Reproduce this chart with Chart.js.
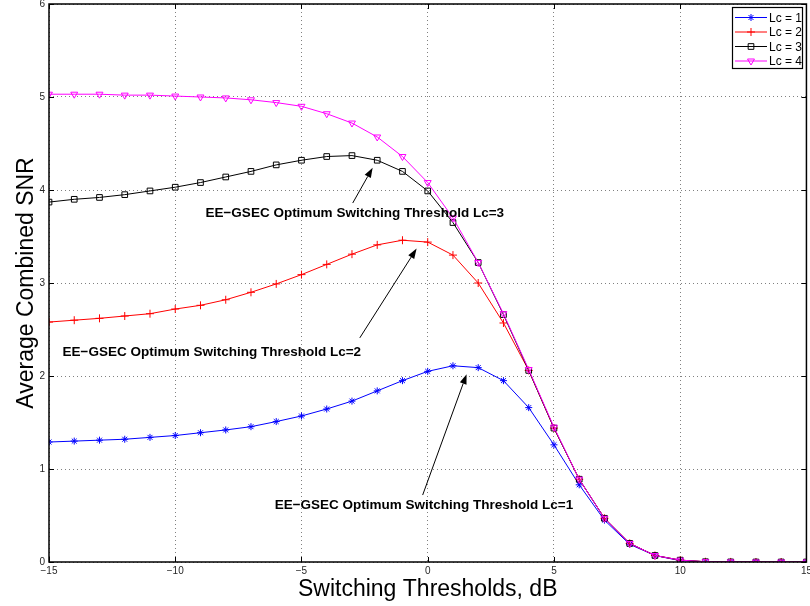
<!DOCTYPE html>
<html>
<head>
<meta charset="utf-8">
<title>Average Combined SNR vs Switching Thresholds</title>
<script src="https://cdn.jsdelivr.net/npm/chart.js@4/dist/chart.umd.min.js"></script>
<style>
  html, body { margin: 0; padding: 0; background: #fff; overflow: hidden; }
  canvas { display: block; margin-top: -4px; }
</style>
</head>
<body>
<canvas id="snrChart" width="815" height="610"></canvas>
<script>
// Switching thresholds (dB)
const thresholds = [-15, -14, -13, -12, -11, -10, -9, -8, -7, -6, -5, -4, -3, -2, -1, 0,
  1, 2, 3, 4, 5, 6, 7, 8, 9, 10, 11, 12, 13, 14, 15];

// Average combined SNR for each Lc
const snrLc1 = [1.29, 1.30, 1.31, 1.32, 1.34, 1.36, 1.39, 1.42, 1.455, 1.51, 1.57, 1.645, 1.73, 1.84, 1.95, 2.05,
  2.11, 2.09, 1.95, 1.66, 1.26, 0.83, 0.45, 0.19, 0.07, 0.014, 0.003, 0.001, 0, 0, 0];
const snrLc2 = [2.58, 2.60, 2.62, 2.645, 2.67, 2.72, 2.76, 2.82, 2.90, 2.99, 3.09, 3.20, 3.31, 3.41, 3.46, 3.44,
  3.30, 3.00, 2.57, 2.06, 1.44, 0.89, 0.47, 0.20, 0.07, 0.02, 0.003, 0.001, 0, 0, 0];
const snrLc3 = [3.87, 3.90, 3.92, 3.95, 3.99, 4.03, 4.08, 4.14, 4.20, 4.27, 4.32, 4.36, 4.37, 4.32, 4.20, 3.99,
  3.65, 3.22, 2.66, 2.06, 1.44, 0.89, 0.47, 0.20, 0.07, 0.02, 0.003, 0.001, 0, 0, 0];
const snrLc4 = [5.03, 5.03, 5.03, 5.02, 5.02, 5.01, 5.00, 4.99, 4.97, 4.94, 4.90, 4.82, 4.72, 4.57, 4.36, 4.08,
  3.70, 3.22, 2.67, 2.07, 1.45, 0.89, 0.47, 0.20, 0.07, 0.02, 0.003, 0.001, 0, 0, 0];

const seriesLabels = ['Lc = 1', 'Lc = 2', 'Lc = 3', 'Lc = 4'];

// Tick values
const xTicks = [-15, -10, -5, 0, 5, 10, 15];
const yTicks = [0, 1, 2, 3, 4, 5, 6];

// Annotations (text position, arrow tail, arrow head) in data units
const notes = [
  { text: 'EE\u2212GSEC Optimum Switching Threshold Lc=3', tx: -2.89, ty: 3.75, x0: -2.97, y0: 3.86, x1: -2.18, y1: 4.24 },
  { text: 'EE\u2212GSEC Optimum Switching Threshold Lc=2', tx: -8.55, ty: 2.25, x0: -2.69, y0: 2.41, x1: -0.44, y1: 3.37 },
  { text: 'EE\u2212GSEC Optimum Switching Threshold Lc=1', tx: -0.15, ty: 0.61, x0: -0.20, y0: 0.72, x1: 1.54, y1: 2.02 }
];

const FONT = "'Liberation Sans', Arial, Helvetica, sans-serif";
const fmt = v => (v < 0 ? '\u2212' + Math.abs(v) : String(v));

const makeSeries = (label, values, color, style, radius, rotation, order) => ({
  label: label,
  data: thresholds.map((t, i) => ({ x: t, y: values[i] })),
  borderColor: color,
  backgroundColor: 'rgba(0,0,0,0)',
  borderWidth: 1,
  pointStyle: style,
  pointRadius: radius,
  pointRotation: rotation,
  pointBorderColor: color,
  pointBackgroundColor: 'rgba(0,0,0,0)',
  pointBorderWidth: 1,
  tension: 0,
  order: order
});

// Frame with inward ticks, annotations and the boxed legend
const matlabDecor = {
  id: 'matlabDecor',
  afterDatasetsDraw(chart) {
    const { ctx, chartArea: a, scales } = chart;
    const xs = scales.x, ys = scales.y;
    ctx.save();

    // axes box
    ctx.strokeStyle = '#000';
    ctx.lineWidth = 1.5;
    ctx.strokeRect(a.left, a.top, a.right - a.left, a.bottom - a.top);

    // inward tick marks
    ctx.lineWidth = 1;
    ctx.beginPath();
    const tl = 5;
    xTicks.forEach(v => {
      const px = Math.round(xs.getPixelForValue(v)) + 0.5;
      ctx.moveTo(px, a.bottom); ctx.lineTo(px, a.bottom - tl);
      ctx.moveTo(px, a.top); ctx.lineTo(px, a.top + tl);
    });
    yTicks.forEach(v => {
      const py = Math.round(ys.getPixelForValue(v)) + 0.5;
      ctx.moveTo(a.left, py); ctx.lineTo(a.left + tl, py);
      ctx.moveTo(a.right, py); ctx.lineTo(a.right - tl, py);
    });
    ctx.stroke();

    // annotations
    ctx.font = 'bold 13.5px ' + FONT;
    ctx.textAlign = 'center';
    ctx.textBaseline = 'middle';
    notes.forEach(n => {
      ctx.fillStyle = '#000';
      ctx.fillText(n.text, xs.getPixelForValue(n.tx), ys.getPixelForValue(n.ty));
      const x0 = xs.getPixelForValue(n.x0), y0 = ys.getPixelForValue(n.y0);
      const x1 = xs.getPixelForValue(n.x1), y1 = ys.getPixelForValue(n.y1);
      const ang = Math.atan2(y1 - y0, x1 - x0);
      const hl = 10, hw = 3.5;
      const bx = x1 - hl * Math.cos(ang), by = y1 - hl * Math.sin(ang);
      ctx.beginPath();
      ctx.moveTo(x0, y0); ctx.lineTo(bx, by);
      ctx.strokeStyle = '#000';
      ctx.lineWidth = 1;
      ctx.stroke();
      ctx.beginPath();
      ctx.moveTo(x1, y1);
      ctx.lineTo(bx + hw * Math.sin(ang), by - hw * Math.cos(ang));
      ctx.lineTo(bx - hw * Math.sin(ang), by + hw * Math.cos(ang));
      ctx.closePath();
      ctx.fill();
    });

    // legend (canvas is shifted up 4px, so add it back)
    const lx = 732, ly = 11, lw = 70, lh = 61;
    ctx.fillStyle = '#fff';
    ctx.fillRect(lx, ly, lw, lh);
    ctx.strokeStyle = '#000';
    ctx.lineWidth = 1.2;
    ctx.strokeRect(lx + 0.5, ly + 0.5, lw, lh);
    ctx.font = '12px ' + FONT;
    ctx.textAlign = 'left';
    chart.data.datasets.forEach((ds, i) => {
      const y = ly + 10.5 + i * 14.5;
      ctx.strokeStyle = ds.borderColor;
      ctx.lineWidth = 1;
      ctx.beginPath();
      ctx.moveTo(lx + 3, y); ctx.lineTo(lx + 35, y);
      ctx.stroke();
      ctx.fillStyle = 'rgba(0,0,0,0)';
      Chart.helpers.drawPoint(ctx, {
        pointStyle: ds.pointStyle, radius: ds.pointRadius,
        rotation: ds.pointRotation, borderWidth: 1
      }, lx + 19, y);
      ctx.fillStyle = '#000';
      ctx.fillText(ds.label, lx + 37, y + 1);
    });
    ctx.restore();
  }
};

const ctx = document.getElementById('snrChart').getContext('2d');
const snrChart = new Chart(ctx, {
  type: 'line',
  data: {
    datasets: [
      makeSeries(seriesLabels[0], snrLc1, '#0000ff', 'star', 3.5, 0, 3),
      makeSeries(seriesLabels[1], snrLc2, '#ff0000', 'cross', 4, 0, 2),
      makeSeries(seriesLabels[2], snrLc3, '#000000', 'rect', 4, 0, 1),
      makeSeries(seriesLabels[3], snrLc4, '#ff00ff', 'triangle', 4, 180, 0)
    ]
  },
  options: {
    responsive: false,
    animation: false,
    devicePixelRatio: 1,
    layout: { padding: 0 },
    plugins: {
      legend: { display: false },
      tooltip: { enabled: false }
    },
    scales: {
      x: {
        type: 'linear',
        min: -15,
        max: 15,
        afterBuildTicks: s => { s.ticks = xTicks.map(v => ({ value: v })); },
        afterFit: s => { s.height = 44; },
        ticks: {
          callback: v => fmt(v),
          font: { family: FONT, size: 10 },
          color: '#262626',
          padding: 3,
          maxRotation: 0
        },
        grid: { color: '#808080', lineWidth: 1, drawTicks: false },
        border: { display: false, dash: [1, 3] },
        title: {
          display: true,
          text: 'Switching Thresholds, dB',
          font: { family: FONT, size: 23 },
          color: '#000',
          padding: { top: 3, bottom: 3 }
        }
      },
      y: {
        type: 'linear',
        min: 0,
        max: 6,
        afterBuildTicks: s => { s.ticks = yTicks.map(v => ({ value: v })); },
        afterFit: s => { s.width = 49; },
        ticks: {
          callback: v => fmt(v),
          font: { family: FONT, size: 10, lineHeight: 0.8 },
          color: '#262626',
          padding: 4
        },
        grid: { color: '#808080', lineWidth: 1, drawTicks: false },
        border: { display: false, dash: [1, 3] },
        title: {
          display: true,
          text: 'Average Combined SNR',
          font: { family: FONT, size: 23 },
          color: '#000',
          padding: { top: 13, bottom: 4 }
        }
      }
    }
  },
  plugins: [matlabDecor]
});
</script>
</body>
</html>
